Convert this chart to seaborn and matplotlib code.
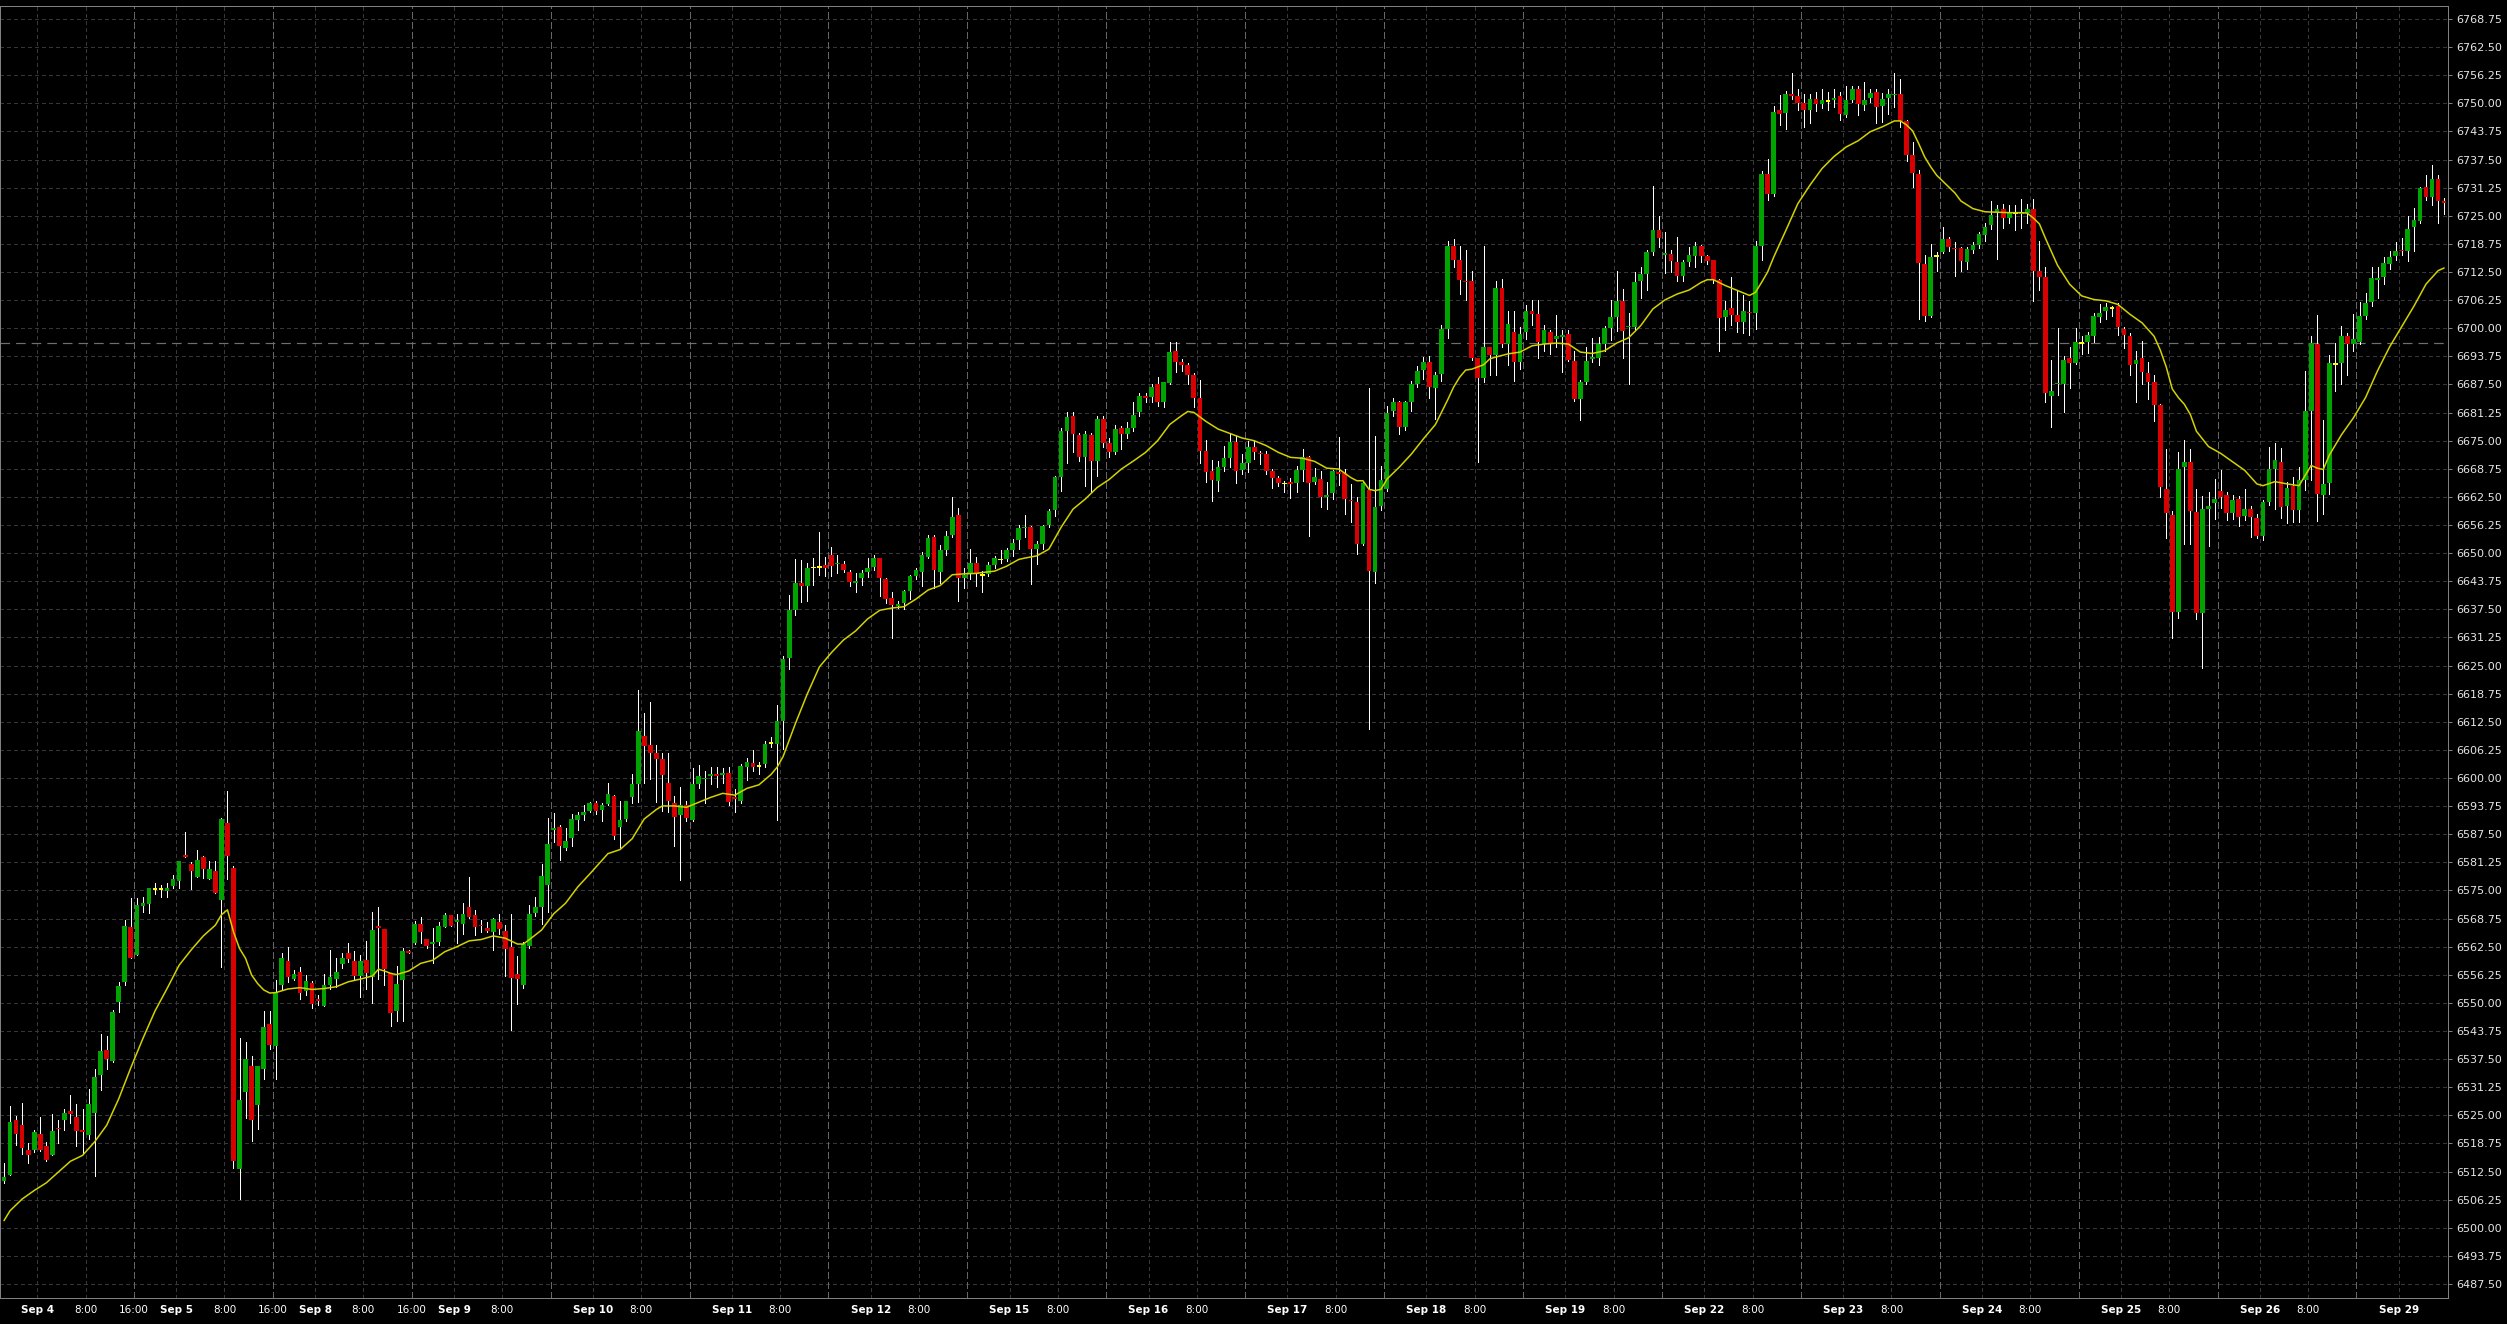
import numpy as np
import pandas as pd
import matplotlib
matplotlib.use("Agg")
import matplotlib.pyplot as plt
import seaborn as sns

# ---------------- data (hourly OHLC) ----------------
opens = [
6510.5,6511.8,6523.9,6522.8,6517.4,6517.4,6520.9,6518.2,6516.2,6522.3,
6524.0,6525.9,6524.6,6521.8,6520.7,6525.5,6533.9,6539.5,6537.0,6550.1,
6554.6,6566.8,6560.6,6571.6,6571.9,6575.4,6575.4,6574.8,6575.9,6577.1,
6582.9,6581.0,6577.9,6582.5,6577.5,6579.4,6572.8,6589.9,6579.9,6513.1,
6530.1,6536.0,6527.2,6535.3,6545.4,6540.4,6554.0,6559.4,6555.4,6556.9,
6552.6,6554.5,6550.9,6549.3,6553.9,6555.4,6558.6,6561.1,6559.4,6556.0,
6559.6,6555.7,6567.2,6566.5,6556.7,6548.3,6555.1,6561.6,6563.4,6567.6,
6564.3,6563.2,6563.6,6566.8,6569.5,6568.0,6567.5,6571.3,6569.5,6567.3,
6566.6,6565.7,6568.1,6566.0,6562.5,6556.5,6554.1,6562.7,6570.0,6571.4,
6576.2,6588.4,6589.1,6584.4,6586.7,6590.7,6591.7,6592.7,6594.5,6592.9,
6594.3,6596.1,6589.1,6590.9,6595.7,6598.7,6609.4,6607.4,6605.5,6604.2,
6599.0,6594.5,6591.7,6594.1,6590.7,6598.7,6599.8,6600.5,6600.8,6600.7,
6601.2,6595.7,6594.9,6602.4,6603.4,6602.7,6603.2,6607.8,6607.6,6612.6,
6626.7,6637.4,6643.3,6642.8,6646.8,6647.0,6647.3,6649.5,6647.5,6647.5,
6645.8,6643.3,6644.4,6645.8,6647.0,6649.0,6644.3,6640.0,6638.2,6638.9,
6641.6,6645.0,6645.8,6649.2,6653.5,6645.9,6650.7,6654.1,6658.4,6644.4,
6645.5,6647.9,6645.2,6645.3,6647.4,6648.6,6648.8,6650.7,6652.9,6655.5,
6655.8,6651.0,6652.0,6656.3,6659.5,6667.0,6677.2,6680.6,6676.3,6671.4,
6676.3,6670.5,6679.8,6674.6,6672.4,6677.8,6676.6,6677.8,6681.3,6685.0,
6684.8,6687.5,6683.5,6687.8,6695.0,6692.4,6691.9,6689.7,6684.5,6672.8,
6668.3,6666.1,6669.2,6671.1,6674.8,6668.5,6670.0,6673.7,6672.3,6672.0,
6668.2,6666.6,6665.5,6665.9,6665.5,6668.5,6671.4,6665.9,6666.4,6662.4,
6663.3,6668.0,6667.9,6661.8,6661.4,6652.0,6664.0,6645.9,6660.5,6664.2,
6681.5,6683.5,6678.0,6683.7,6687.6,6690.7,6692.6,6686.7,6689.8,6699.9,
6718.2,6715.1,6710.6,6710.6,6693.4,6688.9,6695.9,6694.1,6709.0,6696.5,
6699.1,6692.4,6699.1,6703.9,6703.2,6696.5,6699.1,6697.6,6698.0,6698.7,
6692.8,6684.2,6688.0,6693.2,6693.5,6696.4,6700.0,6702.6,6706.0,6700.2,
6700.2,6710.5,6712.1,6716.9,6721.9,6716.4,6716.6,6714.7,6711.6,6714.7,
6716.0,6718.2,6716.0,6715.1,6710.8,6702.5,6704.5,6703.0,6701.3,6703.6,
6703.4,6718.2,6734.2,6729.8,6748.5,6747.9,6752.0,6751.6,6750.1,6748.5,
6750.9,6749.8,6750.6,6750.7,6751.6,6747.4,6750.7,6753.1,6749.6,6751.1,
6752.6,6749.4,6751.3,6751.8,6752.0,6746.0,6738.5,6734.4,6714.2,6702.8,
6716.0,6716.9,6719.9,6717.9,6717.9,6714.7,6717.3,6718.6,6720.7,6722.9,
6725.8,6726.6,6724.5,6725.6,6725.5,6725.6,6726.6,6712.7,6711.3,6685.0,
6687.6,6687.6,6693.5,6692.3,6696.8,6697.0,6698.3,6702.5,6703.8,6704.5,
6704.9,6699.8,6698.3,6692.0,6693.5,6690.1,6688.0,6683.0,6664.3,6658.4,
6637.0,6669.2,6670.2,6659.2,6636.8,6659.9,6661.1,6663.9,6662.9,6659.0,
6662.0,6658.2,6659.9,6657.9,6653.9,6661.3,6668.8,6670.3,6660.5,6664.9,
6659.6,6666.2,6681.7,6696.5,6662.9,6665.6,6692.1,6692.3,6698.2,6696.5,
6696.9,6702.8,6705.9,6710.8,6711.3,6714.4,6716.1,6717.5,6717.1,6722.6,
6723.8,6731.3,6729.2,6733.2,6728.4]

highs = [
6514.5,6527.1,6524.9,6527.7,6518.8,6521.7,6524.6,6519.1,6525.2,6523.9,
6526.5,6529.6,6527.6,6526.5,6530.8,6535.4,6543.0,6542.7,6548.4,6554.6,
6568.4,6573.3,6573.3,6573.6,6575.6,6576.6,6576.2,6576.6,6578.5,6581.6,
6588.1,6581.4,6583.9,6582.7,6581.6,6581.6,6591.1,6597.2,6580.5,6542.1,
6541.3,6538.2,6536.0,6548.2,6548.2,6555.1,6561.2,6562.5,6557.3,6558.0,
6556.2,6554.9,6551.7,6556.5,6561.8,6560.0,6561.2,6563.4,6561.5,6560.6,
6563.8,6570.2,6571.3,6566.5,6556.7,6558.3,6562.3,6561.8,6568.2,6569.2,
6564.3,6566.6,6567.9,6570.1,6569.5,6569.8,6572.3,6578.1,6570.7,6568.4,
6568.1,6568.9,6569.8,6567.4,6569.7,6560.5,6563.5,6571.8,6573.6,6581.0,
6591.1,6592.2,6589.5,6588.8,6592.1,6592.5,6594.1,6594.6,6595.0,6594.5,
6599.0,6596.2,6595.0,6595.0,6600.8,6619.5,6614.4,6617.0,6607.4,6605.5,
6605.5,6596.1,6598.1,6594.9,6602.2,6602.8,6601.5,6602.4,6602.4,6602.2,
6602.4,6597.6,6603.2,6604.4,6606.2,6603.6,6608.2,6609.2,6616.3,6627.1,
6640.6,6648.8,6648.4,6647.9,6649.0,6654.7,6649.2,6651.4,6649.5,6648.2,
6646.2,6645.5,6646.2,6649.0,6649.6,6649.0,6644.4,6641.4,6639.4,6641.8,
6645.2,6646.6,6650.2,6654.1,6654.1,6651.8,6654.9,6662.5,6660.1,6646.6,
6651.0,6649.2,6646.0,6648.1,6649.4,6650.6,6651.2,6653.1,6656.3,6658.5,
6656.1,6652.7,6656.3,6659.8,6667.2,6677.8,6681.3,6681.3,6676.8,6677.2,
6676.8,6680.6,6680.6,6675.6,6678.6,6678.3,6679.1,6683.5,6685.6,6685.6,
6687.6,6689.1,6688.1,6696.9,6696.9,6693.2,6692.2,6690.0,6688.4,6675.1,
6670.7,6670.4,6673.9,6676.5,6676.1,6672.0,6675.0,6675.0,6672.8,6672.8,
6668.7,6667.2,6666.1,6666.7,6669.4,6673.1,6671.7,6669.0,6668.2,6665.9,
6668.5,6675.9,6668.7,6665.3,6662.4,6665.9,6686.7,6676.1,6669.4,6682.8,
6684.6,6683.9,6683.9,6688.2,6691.7,6693.7,6693.9,6690.2,6700.8,6719.4,
6719.9,6718.2,6717.3,6712.7,6693.5,6718.4,6695.9,6710.6,6711.0,6703.9,
6703.8,6700.2,6705.1,6706.2,6706.2,6700.8,6699.6,6703.0,6699.6,6699.6,
6695.0,6688.4,6695.8,6697.8,6698.0,6700.4,6706.2,6712.8,6708.8,6703.4,
6712.5,6713.6,6717.3,6731.6,6724.9,6721.4,6717.3,6720.3,6715.2,6718.0,
6719.2,6718.6,6716.2,6715.2,6711.0,6706.0,6711.4,6708.4,6707.3,6706.0,
6719.5,6735.0,6737.7,6749.4,6751.8,6752.7,6756.8,6753.3,6752.0,6752.0,
6752.6,6753.3,6752.6,6753.3,6752.6,6753.8,6753.8,6753.8,6754.8,6753.3,
6753.3,6752.2,6753.1,6756.7,6755.5,6746.3,6741.4,6735.1,6716.2,6718.8,
6716.9,6722.5,6720.2,6719.2,6718.1,6718.1,6719.2,6721.5,6723.4,6728.3,
6727.5,6727.7,6727.5,6727.5,6728.7,6727.7,6728.7,6719.4,6713.6,6693.0,
6700.0,6693.8,6695.9,6700.0,6698.3,6699.1,6703.3,6705.3,6705.7,6704.9,
6705.7,6700.3,6698.9,6695.0,6697.2,6692.5,6689.7,6683.1,6673.2,6659.4,
6672.6,6675.2,6673.2,6664.3,6662.6,6663.7,6666.5,6668.4,6663.5,6662.9,
6662.8,6664.3,6660.5,6658.6,6661.9,6673.7,6674.4,6673.3,6665.8,6666.9,
6669.2,6690.6,6698.3,6703.0,6679.7,6694.0,6696.8,6700.6,6698.9,6703.1,
6705.8,6707.9,6713.6,6713.6,6715.8,6717.1,6719.2,6720.1,6724.9,6726.8,
6731.4,6734.1,6736.4,6734.1,6729.0]

lows = [
6510.0,6511.7,6518.5,6516.5,6514.5,6516.9,6517.0,6514.8,6516.1,6518.9,
6521.7,6523.2,6518.3,6516.7,6519.8,6511.6,6530.6,6535.4,6536.8,6548.0,
6554.0,6559.9,6560.6,6570.3,6569.9,6574.2,6573.6,6573.6,6575.5,6575.5,
6582.4,6575.3,6577.9,6577.7,6577.5,6574.4,6558.1,6577.6,6513.3,6506.4,
6524.4,6519.3,6522.0,6533.2,6539.7,6533.0,6553.2,6554.7,6555.1,6550.8,
6551.7,6548.9,6549.5,6549.3,6553.2,6553.6,6557.7,6559.2,6555.4,6551.4,
6553.2,6550.0,6555.4,6553.9,6544.8,6546.0,6546.0,6561.0,6563.2,6563.4,
6562.3,6558.8,6562.9,6566.8,6567.2,6563.4,6565.3,6568.8,6565.1,6565.8,
6565.8,6561.7,6565.4,6556.1,6543.9,6549.8,6553.3,6562.3,6569.4,6567.6,
6570.2,6585.7,6581.7,6584.0,6584.8,6588.5,6590.7,6592.5,6591.9,6590.5,
6594.1,6586.5,6584.5,6590.5,6594.5,6594.7,6598.9,6599.9,6594.7,6592.7,
6592.5,6584.9,6577.4,6590.4,6590.5,6597.7,6594.5,6598.6,6598.1,6598.8,
6594.1,6592.5,6594.5,6599.6,6601.6,6600.8,6602.4,6606.8,6590.7,6606.4,
6624.3,6636.2,6639.2,6639.4,6643.0,6645.2,6645.0,6645.0,6645.5,6645.8,
6642.8,6641.4,6643.0,6644.6,6646.2,6640.5,6639.0,6631.2,6637.8,6637.6,
6639.7,6644.2,6642.8,6649.0,6642.2,6643.4,6649.5,6653.7,6639.4,6642.2,
6644.2,6642.6,6641.4,6645.0,6646.8,6647.9,6648.3,6649.4,6650.9,6653.6,
6643.1,6647.7,6650.9,6655.8,6658.3,6663.8,6670.1,6672.4,6670.5,6665.0,
6663.5,6667.2,6673.6,6671.3,6672.0,6673.1,6675.7,6677.2,6680.6,6683.5,
6683.5,6682.8,6682.6,6687.6,6690.2,6690.6,6687.6,6682.4,6670.1,6665.9,
6661.5,6663.8,6668.2,6669.2,6665.7,6667.7,6668.0,6670.9,6669.9,6667.6,
6664.4,6665.0,6663.7,6662.2,6663.5,6666.1,6653.8,6665.3,6660.3,6659.8,
6662.0,6665.2,6658.8,6657.0,6649.9,6651.8,6611.0,6643.4,6659.5,6663.8,
6680.6,6676.6,6677.3,6681.5,6686.9,6688.7,6684.6,6679.8,6688.2,6697.9,
6713.7,6707.6,6706.3,6693.0,6670.2,6688.0,6689.5,6689.7,6695.9,6691.9,
6688.2,6690.9,6697.6,6700.8,6693.5,6695.0,6694.3,6695.8,6690.2,6692.8,
6683.9,6679.6,6687.6,6692.4,6691.9,6695.0,6697.3,6699.5,6693.5,6687.5,
6699.6,6706.8,6708.5,6716.2,6718.0,6712.3,6712.5,6710.5,6710.5,6713.9,
6713.6,6714.7,6714.3,6710.0,6694.9,6699.6,6700.8,6699.1,6698.9,6698.4,
6699.9,6715.1,6728.6,6729.5,6745.1,6744.2,6750.9,6748.5,6744.8,6745.7,
6748.3,6748.9,6748.5,6749.2,6746.3,6746.9,6750.3,6747.4,6748.6,6750.3,
6745.7,6745.9,6747.7,6749.2,6744.8,6737.3,6731.3,6702.1,6701.7,6702.6,
6712.8,6716.7,6717.1,6711.7,6712.7,6713.2,6716.8,6717.9,6719.4,6722.1,
6715.5,6722.3,6723.4,6721.9,6722.4,6723.4,6706.1,6708.6,6683.7,6678.0,
6685.2,6681.4,6686.8,6692.0,6694.2,6694.4,6697.0,6701.3,6702.1,6702.8,
6698.5,6695.7,6689.7,6683.7,6687.5,6684.2,6679.3,6662.4,6653.3,6631.1,
6635.5,6652.1,6652.1,6635.3,6624.4,6651.5,6657.6,6660.1,6657.3,6657.5,
6656.0,6657.3,6653.7,6653.4,6653.0,6660.7,6659.8,6657.9,6656.7,6656.9,
6656.9,6664.1,6666.2,6657.1,6658.6,6663.1,6686.1,6687.5,6689.7,6695.0,
6696.5,6702.0,6705.0,6706.8,6709.8,6713.2,6715.1,6716.2,6714.9,6717.1,
6723.4,6728.6,6727.5,6723.4,6725.4]

closes = [
6511.3,6523.5,6520.9,6517.8,6516.2,6521.3,6517.4,6515.1,6521.5,6522.0,
6525.5,6525.4,6521.5,6521.4,6527.6,6533.5,6539.3,6537.6,6548.0,6553.8,
6567.2,6559.9,6571.8,6572.3,6575.6,6575.4,6575.4,6575.6,6577.5,6581.6,
6582.4,6579.4,6581.7,6579.8,6579.7,6574.4,6590.8,6582.6,6514.8,6528.4,
6537.6,6523.9,6536.0,6544.7,6540.7,6552.5,6560.0,6555.7,6556.5,6552.1,
6554.9,6549.7,6550.4,6553.9,6555.7,6556.9,6560.0,6559.7,6556.0,6559.4,
6556.6,6566.3,6566.6,6557.5,6547.7,6554.3,6561.6,6561.2,6567.6,6565.7,
6562.6,6563.6,6567.2,6569.5,6567.2,6568.4,6569.8,6569.2,6566.9,6567.0,
6566.0,6568.6,6566.4,6562.1,6555.5,6555.3,6563.1,6569.8,6571.3,6578.3,
6585.3,6588.8,6584.9,6586.1,6591.0,6591.7,6592.5,6594.5,6592.7,6594.1,
6596.4,6587.1,6590.7,6594.8,6598.7,6610.4,6607.2,6605.6,6604.3,6600.7,
6594.9,6591.3,6594.1,6591.1,6598.7,6600.4,6600.1,6601.0,6600.5,6601.2,
6594.6,6595.4,6602.6,6603.5,6602.4,6602.7,6607.5,6607.8,6612.6,6626.5,
6637.3,6643.3,6642.8,6646.7,6646.8,6647.0,6646.8,6647.2,6647.9,6646.2,
6643.6,6643.9,6645.7,6646.7,6649.0,6644.4,6639.7,6638.5,6638.7,6641.6,
6644.9,6646.2,6649.6,6653.3,6646.2,6650.7,6653.9,6658.1,6644.4,6645.2,
6647.9,6645.4,6645.2,6647.4,6649.0,6648.6,6650.6,6652.3,6655.7,6655.8,
6651.0,6652.0,6656.1,6659.3,6667.0,6677.2,6680.3,6676.5,6671.4,6676.5,
6670.5,6679.8,6674.6,6672.6,6677.6,6676.6,6677.8,6680.8,6685.0,6684.6,
6687.0,6683.5,6688.0,6694.8,6692.4,6691.8,6689.5,6684.6,6672.8,6668.1,
6666.2,6669.2,6671.1,6674.8,6668.3,6670.0,6673.7,6672.6,6672.0,6668.3,
6666.6,6665.7,6665.5,6665.3,6668.5,6671.3,6665.5,6667.0,6662.4,6663.0,
6668.2,6667.6,6662.0,6661.5,6652.1,6665.7,6646.0,6660.3,6666.2,6681.1,
6683.5,6678.0,6683.5,6687.6,6690.4,6692.6,6686.9,6689.7,6699.9,6718.2,
6715.2,6710.8,6710.3,6693.5,6688.9,6695.9,6694.1,6709.0,6696.5,6701.0,
6692.4,6698.7,6703.9,6703.2,6696.9,6699.6,6696.5,6698.2,6698.6,6693.0,
6684.2,6688.0,6692.8,6693.6,6696.4,6700.0,6702.6,6706.0,6699.5,6700.5,
6710.2,6712.1,6716.9,6721.9,6720.1,6716.6,6714.9,6711.6,6714.7,6716.2,
6718.2,6716.0,6714.9,6710.8,6702.3,6704.1,6703.0,6701.3,6703.9,6703.4,
6718.2,6734.4,6729.8,6748.1,6747.7,6752.0,6751.7,6750.1,6748.6,6750.9,
6749.8,6750.7,6750.6,6751.3,6747.6,6750.7,6753.3,6749.8,6750.7,6752.2,
6749.2,6750.9,6752.0,6752.1,6746.1,6738.5,6734.5,6714.5,6702.8,6715.8,
6716.0,6719.9,6718.0,6717.6,6714.9,6717.6,6718.6,6720.9,6722.6,6725.1,
6726.6,6724.5,6725.6,6725.6,6725.8,6726.6,6712.7,6711.3,6685.7,6686.0,
6687.9,6693.0,6692.3,6697.0,6696.8,6698.5,6702.7,6703.3,6704.8,6704.5,
6700.3,6698.5,6691.8,6693.0,6690.2,6688.0,6683.0,6664.6,6659.0,6637.0,
6668.8,6670.3,6659.4,6636.8,6659.9,6660.5,6662.0,6662.4,6659.0,6661.9,
6658.1,6659.9,6658.1,6653.9,6661.3,6668.8,6670.7,6660.2,6664.4,6659.6,
6666.2,6681.7,6696.8,6663.1,6665.4,6692.3,6692.1,6698.2,6696.5,6697.6,
6702.8,6705.7,6711.1,6711.1,6714.6,6715.9,6717.2,6717.1,6722.1,6724.1,
6731.1,6729.2,6733.2,6728.4,6727.9]

# moving-average line (bar index, value)
ma_index = [0,1,3,5,7,9,11,13,15,17,19,21,23,25,27,29,31,33,35,36,37,38,39,40,41,42,43,44,45,47,49,51,53,55,57,59,61,62,63,64,65,67,69,71,73,75,77,79,80,
81,83,85,86,87,89,91,93,95,97,99,100,102,104,106,108,109,111,113,115,117,119,121,123,125,127,128,129,131,133,135,137,139,141,143,145,147,149,151,153,155,157,159,161,
162,164,166,168,169,171,173,175,177,179,181,183,185,187,189,191,193,195,196,197,199,201,203,205,207,209,211,213,215,217,219,221,223,224,225,226,227,228,229,231,233,235,237,239,240,241,242,
243,245,246,247,249,251,253,255,257,259,261,263,265,267,269,271,273,275,277,279,281,282,283,285,287,289,290,291,292,293,295,297,299,301,303,305,307,309,311,313,314,315,316,317,318,319,320,321,323,
324,326,328,330,332,334,335,336,337,338,339,340,342,344,346,348,350,352,354,356,357,358,359,360,361,362,363,365,367,369,371,372,373,374,376,378,380,381,382,383,384,385,387,389,391,393,395,397,399,401,403,404]
ma_value = [6501.6,6503.8,6506.4,6508.3,6510.0,6512.4,6514.8,6516.1,6519.1,6522.8,6528.7,6535.6,6542.1,6548.2,6553.2,6558.4,6561.8,6564.9,6567.3,6569.6,6570.7,6565.8,6562.1,6559.9,6556.2,6554.3,6552.9,6552.2,6552.3,6553.1,6553.4,6553.0,6553.2,6553.6,6554.7,6555.3,6556.0,6557.5,6557.1,6556.6,6556.3,6557.1,6558.8,6559.5,6561.4,6562.5,6563.8,6564.1,6564.5,
6564.9,6564.4,6563.1,6563.1,6564.1,6566.2,6569.8,6572.2,6575.8,6578.7,6581.7,6583.2,6584.1,6586.5,6590.9,6593.0,6593.8,6593.8,6593.5,6594.6,6595.7,6596.6,6596.2,6597.7,6598.5,6600.8,6602.4,6604.8,6612.0,6618.7,6624.7,6627.9,6630.7,6632.7,6635.4,6637.3,6637.8,6638.1,6639.8,6641.8,6642.8,6645.2,6645.4,6645.5,
6645.7,6646.0,6647.1,6648.6,6648.9,6649.4,6650.9,6655.7,6659.8,6662.0,6664.6,6666.4,6668.7,6670.5,6672.4,6675.0,6678.6,6680.6,6681.5,6681.3,6679.3,6677.6,6676.6,6675.6,6675.0,6673.9,6672.4,6671.3,6671.1,6670.4,6668.9,6668.7,6666.8,6666.1,6666.1,6664.2,6663.9,6664.2,6666.5,6669.1,6672.0,6675.4,6678.6,6684.0,6686.9,6689.1,6690.7,
6690.9,6691.9,6693.2,6693.6,6694.3,6694.7,6696.1,6696.5,6696.7,6696.5,6694.7,6694.4,6695.0,6696.7,6697.9,6700.6,6704.3,6706.3,6707.6,6708.5,6710.2,6710.8,6710.8,6709.5,6708.4,6707.3,6708.0,6710.2,6712.5,6715.8,6721.7,6727.7,6731.8,6735.5,6738.2,6740.3,6741.7,6743.7,6744.8,6746.1,6746.1,6745.2,6743.9,6741.1,6738.1,6735.9,6734.0,6732.7,6730.1,
6728.3,6726.6,6725.9,6725.8,6725.7,6725.7,6725.6,6724.5,6723.2,6720.0,6717.0,6714.0,6709.8,6707.2,6706.4,6706.1,6705.3,6703.1,6701.2,6698.2,6695.2,6691.4,6686.5,6684.6,6683.1,6680.8,6677.1,6673.7,6672.2,6670.3,6668.4,6666.9,6665.4,6665.0,6665.9,6665.4,6665.0,6667.3,6669.5,6668.9,6668.6,6671.8,6676.3,6680.1,6684.6,6690.6,6695.9,6700.4,6704.9,6709.8,6712.8,6713.4]

day_labels = ["Sep 4", "Sep 5", "Sep 8", "Sep 9", "Sep 10", "Sep 11", "Sep 12", "Sep 15", "Sep 16",
              "Sep 17", "Sep 18", "Sep 19", "Sep 22", "Sep 23", "Sep 24", "Sep 25", "Sep 26", "Sep 29"]
days_with_16 = ["Sep 4", "Sep 5", "Sep 8"]
price_ticks = [6487.50 + 6.25 * k for k in range(46)]
reference_price = 6696.75

# ---------------- styling ----------------
sns.set_theme(style="dark", rc={"axes.facecolor": "#000000", "figure.facecolor": "#000000"})
plt.rcParams['font.family'] = ['DejaVu Sans']

W, H = 2507, 1324
fig = plt.figure(figsize=(W / 100, H / 100), dpi=100)
ax = fig.add_axes([0.0, 26 / H, 2447.7 / W, 1292 / H])
ax.set_facecolor("#000000")
ax.grid(False)

df = pd.DataFrame({"open": opens, "high": highs, "low": lows, "close": closes})
df["idx"] = np.arange(len(df))
df["high"] = df[["high", "open", "close"]].max(axis=1)
df["low"] = df[["low", "open", "close"]].min(axis=1)
last_bar = len(df) - 1

# grid lines
px = 0.72  # one pixel in points
for yv in price_ticks:
    ax.axhline(yv, color="#363636", lw=px, ls=(0, (3, 3)), zorder=0, antialiased=False)

DAY_BARS = 23
first_day = 5.5
day_pos = [first_day + DAY_BARS * k for k in range(len(day_labels))]
xt_pos, xt_lab, xt_bold = [], [], []
for d, lab in zip(day_pos, day_labels):
    ax.axvline(d, color="#383838", lw=px, ls=(0, (3, 3)), zorder=0, antialiased=False)
    xt_pos.append(d); xt_lab.append(lab); xt_bold.append(True)
    if d + 8 < last_bar:
        ax.axvline(d + 8, color="#383838", lw=px, ls=(0, (3, 3)), zorder=0, antialiased=False)
        xt_pos.append(d + 8); xt_lab.append("8:00"); xt_bold.append(False)
    if d + 16 < last_bar:
        ax.axvline(d + 16, color="#666666", lw=px, ls=(0, (6, 4)), zorder=0, antialiased=False)
        if lab in days_with_16:
            xt_pos.append(d + 16); xt_lab.append("16:00"); xt_bold.append(False)

# reference (dashed) price line
ax.axhline(reference_price, color="#6e6e6e", lw=px * 1.2, ls=(0, (8, 5)), zorder=1)

# wicks
ax.vlines(df["idx"], df["low"], df["high"], color="#ffffff", lw=px, zorder=2, antialiased=False)

# bodies
up = df["close"] > df["open"]
down = df["close"] < df["open"]
doji = df["close"] == df["open"]
body_bottom = df[["open", "close"]].min(axis=1)
body_h = (df["close"] - df["open"]).abs().clip(lower=0.3)
colors = np.where(up, "#00a400", np.where(down, "#d80000", "#ffff00"))
body_bottom = np.where(doji, df["open"] - 0.2, body_bottom)
body_h = np.where(doji, 0.4, body_h)
ax.bar(df["idx"], body_h, bottom=body_bottom, width=0.78, color=colors, linewidth=0,
       zorder=3, antialiased=False)

# moving average
ma_df = pd.DataFrame({"idx": ma_index, "ma": ma_value})
sns.lineplot(data=ma_df, x="idx", y="ma", ax=ax, color="#d2d200", lw=1.1, zorder=4)

# axes
ax.set_xlim(-0.66, 404.6)
ax.set_ylim(6484.4, 6771.65)
ax.set_xlabel("")
ax.set_ylabel("")

ax.yaxis.tick_right()
ax.set_yticks(price_ticks)
ax.set_yticklabels([f"{v:.2f}" for v in price_ticks])
ax.tick_params(axis="y", which="both", right=True, left=False, colors="#808080",
               labelcolor="#e6e6e6", labelsize=8, length=3, width=px, pad=3, direction="out")

ax.set_xticks(xt_pos)
ax.set_xticklabels(xt_lab)
ax.tick_params(axis="x", which="both", bottom=True, length=0, pad=5, labelsize=7.5, labelcolor="#ffffff")
for t, b in zip(ax.get_xticklabels(), xt_bold):
    t.set_fontweight("bold" if b else "normal")

for s in ["left", "right", "top", "bottom"]:
    ax.spines[s].set_visible(True)
    ax.spines[s].set_color("#808080")
    ax.spines[s].set_linewidth(px)

fig.savefig("out.png", dpi=100, facecolor="#000000")
